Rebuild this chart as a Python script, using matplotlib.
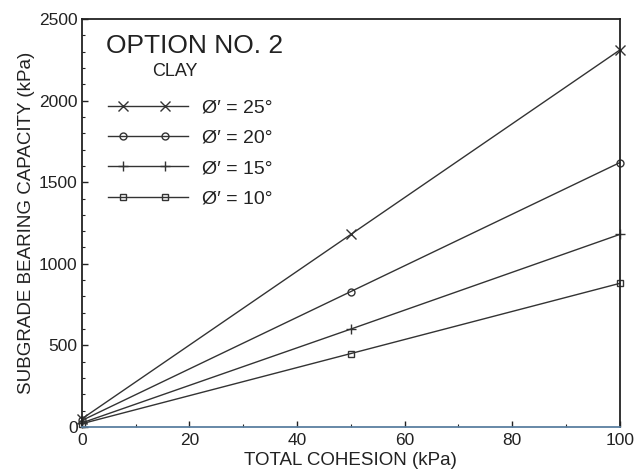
import matplotlib
matplotlib.use("Agg")
import matplotlib.pyplot as plt
from matplotlib.ticker import MultipleLocator
from matplotlib.lines import Line2D

plt.rcParams['font.family'] = ['Liberation Sans', 'DejaVu Sans']

cohesion = [0, 50, 100]
phi_25 = [50, 1180, 2310]
phi_20 = [40, 830, 1620]
phi_15 = [25, 600, 1180]
phi_10 = [20, 450, 880]
labels = ["Ø′ = 25°", "Ø′ = 20°", "Ø′ = 15°", "Ø′ = 10°"]
markers = ["x", "o", "+", "s"]

INK = '#222222'
LEG_MARKS = [4, 15]

fig = plt.figure(figsize=(6.35, 4.76), dpi=100)
ax = fig.add_axes([0.129, 0.103, 0.847, 0.857])

handles = []
for ys, lab, m in zip([phi_25, phi_20, phi_15, phi_10], labels, markers):
    ms = 7 if m in 'x+' else 5
    ax.plot(cohesion, ys, color='#333333', lw=1.0, marker=m, ms=ms,
            mfc='none', mec='#333333', mew=1.0, clip_on=False)
    handles.append(Line2D([], [], color='#333333', lw=1.0, marker=m, ms=ms,
                          mfc='none', mec='#333333', mew=1.0, markevery=LEG_MARKS,
                          label=lab))

ax.set_xlim(0, 100)
ax.set_ylim(0, 2500)
ax.xaxis.set_major_locator(MultipleLocator(20))
ax.xaxis.set_minor_locator(MultipleLocator(10))
ax.yaxis.set_major_locator(MultipleLocator(500))
ax.yaxis.set_minor_locator(MultipleLocator(100))
ax.tick_params(which='both', direction='in', labelsize=12.5, colors=INK)
ax.tick_params(which='major', length=4, width=1)
ax.tick_params(which='minor', length=2.5, width=0.8)
ax.tick_params(axis='x', pad=4)
ax.tick_params(axis='y', pad=3)
for s in ax.spines.values():
    s.set_linewidth(1.3)
    s.set_color(INK)
ax.spines['bottom'].set_color('#5a7fa0')

ax.set_xlabel("TOTAL COHESION (kPa)", fontsize=13.5, color=INK, labelpad=3)
ax.set_ylabel("SUBGRADE BEARING CAPACITY (kPa)", fontsize=13.5, color=INK, labelpad=3)

ax.text(0.045, 0.935, "OPTION NO. 2", transform=ax.transAxes, fontsize=19, color=INK, va='center')
ax.text(0.13, 0.872, "CLAY", transform=ax.transAxes, fontsize=13, color=INK, va='center')

leg = ax.legend(handles=handles, loc='upper left', bbox_to_anchor=(0.012, 0.838), frameon=False,
                fontsize=14, handlelength=4.72, numpoints=22, labelspacing=0.66,
                handletextpad=0.4, labelcolor=INK, borderpad=0.2)
for h in leg.legend_handles:
    h.set_markevery(LEG_MARKS)

fig.savefig("out.png", dpi=100)
